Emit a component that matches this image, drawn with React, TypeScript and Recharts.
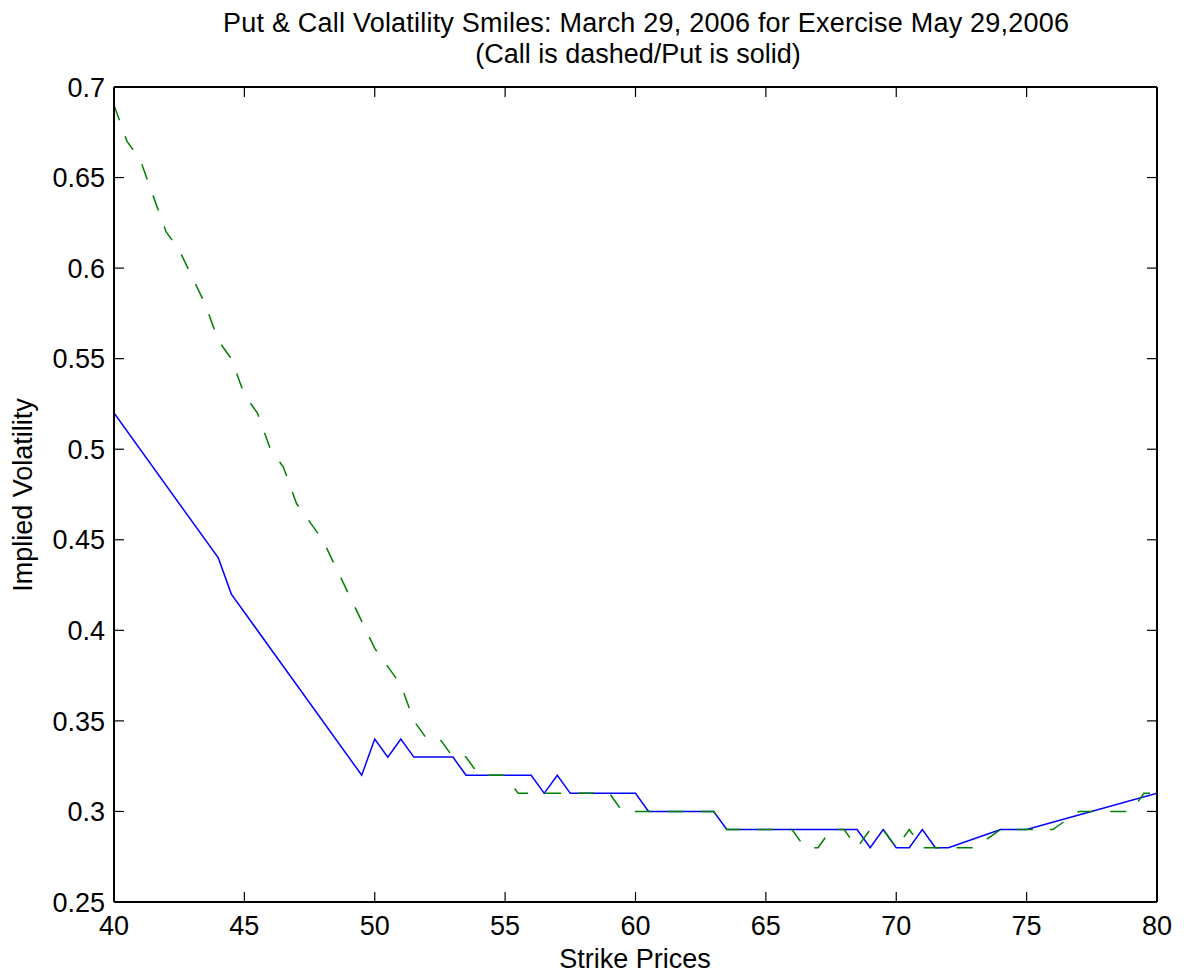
import React from "react"
import { LineChart, Line, XAxis, YAxis } from "recharts"

// put (solid blue) — strike / implied vol
const putStrikes = [40, 44, 44.5, 49.5, 50, 50.5, 51, 51.5, 53, 53.5, 56, 56.5, 57, 57.5, 60, 60.5, 63, 63.5, 68.5, 69, 69.5, 70, 70.5, 71, 71.5, 72, 74, 75, 80]
const putVols = [0.52, 0.44, 0.42, 0.32, 0.34, 0.33, 0.34, 0.33, 0.33, 0.32, 0.32, 0.31, 0.32, 0.31, 0.31, 0.30, 0.30, 0.29, 0.29, 0.28, 0.29, 0.28, 0.28, 0.29, 0.28, 0.28, 0.29, 0.29, 0.31]

// call (dashed green)
const callStrikes = [40, 40.5, 41, 42, 42.5, 43, 43.5, 44, 44.5, 45, 45.5, 46, 46.5, 47, 47.5, 48, 50, 51, 51.5, 52, 52.5, 53, 53.5, 54, 55, 55.5, 59, 59.5, 63, 63.5, 66, 66.5, 67, 67.5, 68, 68.5, 69, 69.5, 70, 70.5, 71, 73, 74, 76, 77, 79, 79.5, 80]
const callVols = [0.69, 0.67, 0.66, 0.62, 0.61, 0.595, 0.58, 0.56, 0.55, 0.53, 0.52, 0.50, 0.49, 0.47, 0.46, 0.45, 0.39, 0.37, 0.35, 0.34, 0.34, 0.33, 0.33, 0.32, 0.32, 0.31, 0.31, 0.30, 0.30, 0.29, 0.29, 0.28, 0.28, 0.29, 0.29, 0.28, 0.29, 0.29, 0.28, 0.29, 0.28, 0.28, 0.29, 0.29, 0.30, 0.30, 0.31, 0.31]

const xTicks = [40, 45, 50, 55, 60, 65, 70, 75, 80]
const yTicks = [0.25, 0.3, 0.35, 0.4, 0.45, 0.5, 0.55, 0.6, 0.65, 0.7]

const putData = putStrikes.map((s, i) => ({ strike: s, vol: putVols[i] }))
const callData = callStrikes.map((s, i) => ({ strike: s, vol: callVols[i] }))

const FONT = '"Liberation Sans", Arial, Helvetica, sans-serif'
const FS = 27
const TICK_LEN = 10

const fmtY = (v: number) => String(+v.toFixed(2))

const BottomTick = (props: any) => {
  const { x, y, payload } = props
  return (
    <g>
      <line x1={x} y1={y} x2={x} y2={y - TICK_LEN} stroke="#000" strokeWidth={1.2} />
      <text x={x} y={y + 33} textAnchor="middle" fontFamily={FONT} fontSize={FS} fill="#000">{payload.value}</text>
    </g>
  )
}

const LeftTick = (props: any) => {
  const { x, y, payload } = props
  return (
    <g>
      <line x1={x} y1={y} x2={x + TICK_LEN} y2={y} stroke="#000" strokeWidth={1.2} />
      <text x={x - 9} y={y} dy="0.36em" textAnchor="end" fontFamily={FONT} fontSize={FS} fill="#000">{fmtY(payload.value)}</text>
    </g>
  )
}

const TopTick = (props: any) => {
  const { x, y } = props
  return <line x1={x} y1={y} x2={x} y2={y + TICK_LEN} stroke="#000" strokeWidth={1.2} />
}

const RightTick = (props: any) => {
  const { x, y } = props
  return <line x1={x} y1={y} x2={x - TICK_LEN} y2={y} stroke="#000" strokeWidth={1.2} />
}

export default function App() {
  const W = 1184
  const H = 978
  return (
    <div style={{ position: "relative", width: W, height: H, background: "#fff" }}>
      <style>{`body{margin:0;background:#fff}`}</style>
      <LineChart width={W} height={H} data={putData} margin={{ top: 86, right: 26, bottom: 0, left: 0 }}>
        <XAxis
          xAxisId="b"
          dataKey="strike"
          type="number"
          domain={[40, 80]}
          ticks={xTicks}
          allowDataOverflow
          height={76}
          tickSize={0}
          tickMargin={0}
          tickLine={false}
          axisLine={{ stroke: "#000", strokeWidth: 2 }}
          tick={<BottomTick />}
          interval={0}
        />
        <XAxis
          xAxisId="t"
          orientation="top"
          dataKey="strike"
          type="number"
          domain={[40, 80]}
          ticks={xTicks}
          allowDataOverflow
          height={1}
          tickSize={0}
          tickMargin={0}
          tickLine={false}
          axisLine={{ stroke: "#000", strokeWidth: 2 }}
          tick={<TopTick />}
          interval={0}
        />
        <YAxis
          yAxisId="l"
          type="number"
          domain={[0.25, 0.7]}
          ticks={yTicks}
          allowDataOverflow
          width={114}
          tickSize={0}
          tickMargin={0}
          tickLine={false}
          axisLine={{ stroke: "#000", strokeWidth: 2 }}
          tick={<LeftTick />}
          interval={0}
        />
        <YAxis
          yAxisId="r"
          orientation="right"
          type="number"
          domain={[0.25, 0.7]}
          ticks={yTicks}
          allowDataOverflow
          width={1}
          tickSize={0}
          tickMargin={0}
          tickLine={false}
          axisLine={{ stroke: "#000", strokeWidth: 2 }}
          tick={<RightTick />}
          interval={0}
        />
        <Line
          xAxisId="b"
          yAxisId="l"
          data={putData}
          dataKey="vol"
          type="linear"
          stroke="#0000ff"
          strokeWidth={1.5}
          dot={false}
          activeDot={false}
          isAnimationActive={false}
        />
        <Line
          xAxisId="b"
          yAxisId="l"
          data={callData}
          dataKey="vol"
          type="linear"
          stroke="#008000"
          strokeWidth={1.5}
          strokeDasharray="16 17"
          dot={false}
          activeDot={false}
          isAnimationActive={false}
        />
      </LineChart>
      <svg width={W} height={H} style={{ position: "absolute", left: 0, top: 0, pointerEvents: "none" }}>
        <g fontFamily={FONT} fontSize={FS} fill="#000">
          <text x={646} y={32} textAnchor="middle" textLength={846}>Put &amp; Call Volatility Smiles: March 29, 2006 for Exercise May 29,2006</text>
          <text x={638} y={63} textAnchor="middle">(Call is dashed/Put is solid)</text>
          <text x={635} y={968} textAnchor="middle">Strike Prices</text>
          <text x={0} y={0} textAnchor="middle" transform="translate(32 495) rotate(-90)">Implied Volatility</text>
        </g>
      </svg>
    </div>
  )
}
